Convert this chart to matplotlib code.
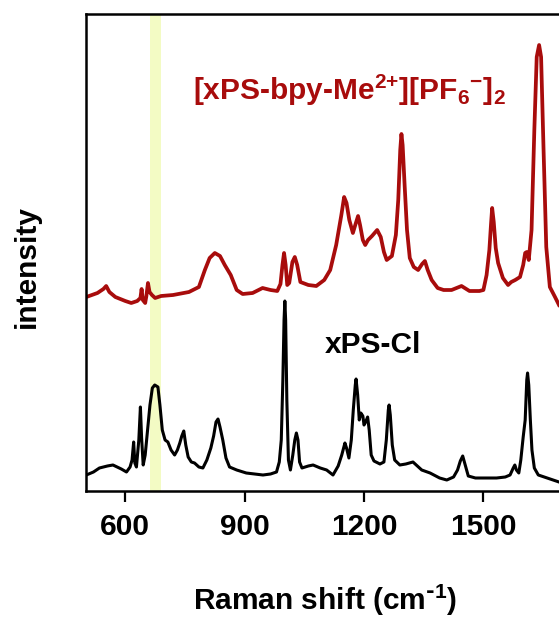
import matplotlib
matplotlib.use("Agg")
import matplotlib.pyplot as plt

# ===== DATA (arbitrary intensity units, spectra already offset) =====
shift_red = [502, 530, 545, 552, 560, 575, 600, 615, 630, 638, 641, 644, 650, 653, 657, 661, 667, 675,
             690, 720, 760, 785, 800, 812, 825, 838, 850, 865, 880, 895, 920, 945, 965, 982, 990, 995,
             999, 1003, 1007, 1012, 1020, 1026, 1032, 1040, 1060, 1080, 1100, 1115, 1130, 1143, 1150,
             1156, 1163, 1172, 1178, 1185, 1190, 1197, 1203, 1210, 1220, 1233, 1242, 1250, 1257, 1270,
             1280, 1286, 1291, 1294, 1297, 1302, 1308, 1315, 1325, 1336, 1346, 1353, 1360, 1370, 1385,
             1400, 1420, 1445, 1465, 1490, 1500, 1508, 1515, 1519, 1522, 1526, 1531, 1537, 1549, 1562,
             1570, 1580, 1592, 1600, 1605, 1609, 1614, 1621, 1628, 1634, 1640, 1645, 1651, 1658, 1667,
             1680, 1690]
int_red = [194, 198, 202, 205, 199, 194, 190, 188, 190, 193, 202, 191, 188, 195, 208, 199, 196, 193,
           195, 196, 199, 204, 221, 233, 238, 235, 226, 216, 201, 197, 198, 203, 201, 200, 207, 226,
           238, 226, 206, 208, 229, 234, 226, 209, 206, 205, 211, 221, 246, 276, 294,
           288, 271, 258, 266, 275, 266, 251, 246, 251, 255, 261, 254, 239, 231, 235,
           256, 291, 341, 357, 346, 306, 261, 233, 224, 221, 227, 230, 221, 211, 203,
           201, 201, 205, 200, 200, 201, 216, 241, 266, 283, 269, 243, 228, 213, 206,
           209, 211, 214, 226, 238, 239, 231, 261, 361, 434, 446, 434, 344, 244, 204,
           194, 186]

shift_blk = [502, 520, 535, 555, 569, 590, 603, 612, 617, 621, 624, 628, 634, 638, 641, 645, 650, 656,
             662, 668, 674, 682, 687, 693, 700, 707, 715, 724, 731, 737, 742, 747, 752, 758, 766, 774,
             785, 795, 805, 815, 822, 828, 833, 838, 845, 853, 862, 880, 904, 925, 946, 965, 980, 987,
             992, 996, 999, 1001, 1003, 1006, 1010, 1015, 1021, 1026, 1030, 1034, 1038, 1044, 1060,
             1072, 1090, 1106, 1122, 1135, 1144, 1152, 1156, 1162, 1168, 1173, 1178, 1180, 1184, 1188,
             1192, 1197, 1200, 1204, 1209, 1213, 1218, 1225, 1240, 1250, 1256, 1261, 1263, 1266, 1271,
             1277, 1290, 1305, 1323, 1345, 1366, 1390, 1408, 1425, 1435, 1442, 1448, 1453, 1462, 1480,
             1510, 1533, 1555, 1567, 1575, 1579, 1583, 1589, 1594, 1600, 1605, 1609, 1611, 1614, 1618,
             1622, 1628, 1638, 1660, 1690]
int_blk = [16, 19, 23, 25, 26, 22, 19, 24, 31, 49, 28, 24, 51, 84, 53, 26, 36, 61,
           86, 103, 106, 104, 86, 61, 51, 49, 41, 36, 41, 48, 55, 60, 46, 34, 29, 28,
           24, 23, 31, 43, 55, 69, 72, 64, 51, 33, 24, 21, 18, 17, 16, 17, 19, 29,
           51, 111, 171, 190, 171, 91, 31, 21, 36, 51, 58, 51, 29, 23, 25,
           26, 23, 21, 16, 25, 36, 48, 43, 33, 51, 81, 106, 112, 96, 71,
           78, 75, 66, 69, 74, 61, 36, 30, 27, 29, 51, 81, 86, 76, 46,
           31, 26, 27, 29, 21, 18, 13, 11, 14, 21, 30, 35, 28, 15, 13,
           13, 13, 14, 16, 23, 26, 21, 18, 31, 54, 71, 111, 118, 106, 71,
           41, 23, 16, 13, 9]

highlight = (661, 689)
label_red = r"[xPS-bpy-Me$^{2{+}}$][PF$_6$$^{-}$]$_2$"
label_blk = "xPS-Cl"

# ===== STYLE =====
plt.rcParams["font.family"] = ["Liberation Sans", "DejaVu Sans"]
plt.rcParams["font.weight"] = "bold"
plt.rcParams["mathtext.default"] = "regular"

red = "#a80c0c"

fig = plt.figure(figsize=(5.59, 6.18), dpi=100)
ax = fig.add_axes([85.5 / 559, 127 / 618, 1 - 85.5 / 559, 477 / 618])

ax.axvspan(*highlight, color="#f3fbc4", lw=0, zorder=0)
ax.plot(shift_red, int_red, color=red, lw=2.7, solid_joinstyle="round", zorder=2)
ax.plot(shift_blk, int_blk, color="black", lw=2.2, solid_joinstyle="round", zorder=2)

ax.text(769, 391, label_red, color=red, fontsize=21.5, fontweight="bold", va="baseline", ha="left")
ax.text(1101, 138, label_blk, color="black", fontsize=21.5, fontweight="bold", va="baseline", ha="left")

ax.set_xlim(500, 1690)
ax.set_ylim(0, 477)
ax.set_xticks([600, 900, 1200, 1500])
ax.set_yticks([])
ax.tick_params(axis="x", direction="out", length=8, width=1.6, labelsize=21.5, pad=8)
for lab in ax.get_xticklabels():
    lab.set_fontweight("bold")

for side in ["left", "top", "bottom"]:
    ax.spines[side].set_linewidth(1.8)
ax.spines["right"].set_visible(False)

fig.text(325 / 559, 8 / 618, r"Raman shift (cm$^{\text{-}1}$)", fontsize=21.5, fontweight="bold",
         ha="center", va="baseline")
fig.text(27 / 559, 1 - 266 / 618, "intensity", fontsize=21.5, fontweight="bold",
         rotation=90, ha="center", va="center")

fig.savefig("out.png", dpi=100)
